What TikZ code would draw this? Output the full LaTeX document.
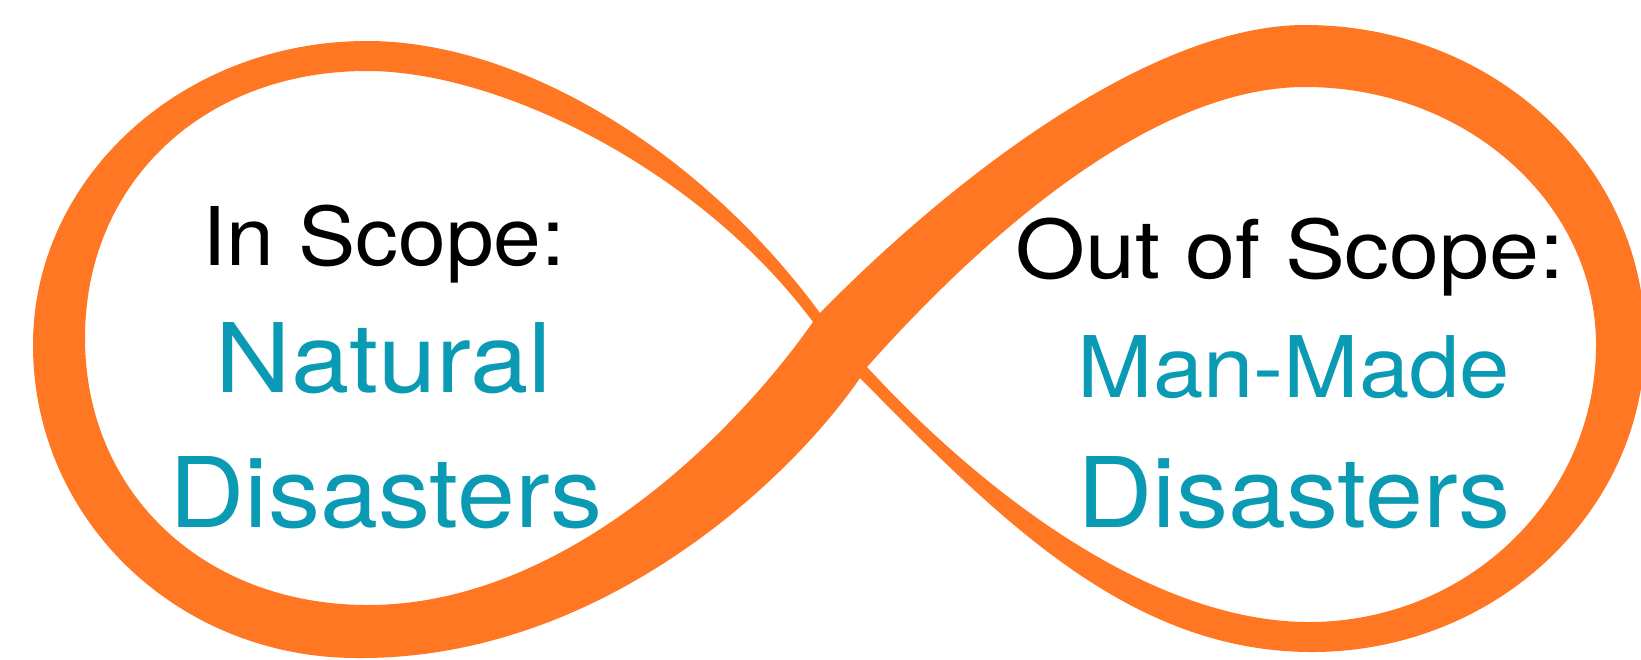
\documentclass[tikz,border=0pt]{standalone}
\usepackage{graphicx}
\usepackage{fontspec}
\setmainfont{TeX Gyre Heros}
\definecolor{loopfill}{HTML}{FF7722}
\definecolor{captionteal}{HTML}{0A9AB4}
\newcommand{\stretched}[2]{\scalebox{#1}[1]{#2}}
\begin{document}
\begin{tikzpicture}[x=0.5pt,y=-0.5pt,
  ring/.style={fill=loopfill, even odd rule},
  label/.style={inner sep=0pt, anchor=base},
  heading/.style={label, text=black},
  topic/.style={label, text=captionteal}]
\useasboundingbox (0,0) rectangle (1641,659);
\fill[white] (0,0) rectangle (1641,659);

% left loop: outer edge, then inner edge
\fill[ring]
  (867,367) -- (860,378)
    .. controls (790,480) and (600,660) .. (357,658)
    .. controls (178,658) and (33,520) .. (33,345)
    .. controls (33,177) and (183,41) .. (367,41)
    .. controls (520,41) and (700,150) .. (820,313) -- cycle
  (813,322)
    .. controls (700,170) and (500,71) .. (367,71)
    .. controls (203,71) and (85,183) .. (85,338)
    .. controls (85,493) and (204,605) .. (368,605)
    .. controls (560,605) and (730,440) .. (813,322) -- cycle;

% right loop: outer edge, then inner edge
\fill[ring]
  (813,322) -- (820,313)
    .. controls (950,180) and (1150,25) .. (1305,25)
    .. controls (1493,25) and (1645,166) .. (1645,340)
    .. controls (1645,512) and (1495,652) .. (1312,652)
    .. controls (1130,652) and (1000,520) .. (860,378) -- cycle
  (867,367)
    .. controls (980,240) and (1150,87) .. (1305,87)
    .. controls (1466,87) and (1596,203) .. (1596,345)
    .. controls (1596,498) and (1467,622) .. (1309,622)
    .. controls (1150,622) and (980,490) .. (867,367) -- cycle;

% captions
\node[heading, font=\fontsize{40.5}{40.5}\selectfont] (inscope) at (384,265) {\stretched{1.06}{In Scope:}};
\node[topic, font=\fontsize{48}{48}\selectfont] (natural) at (384,392) {\stretched{1.09}{Natural}};
\node[topic, font=\fontsize{48.7}{48.7}\selectfont] (natdis) at (386,527) {\stretched{1.07}{Disasters}};
\node[heading, font=\fontsize{40.5}{40.5}\selectfont] (outscope) at (1290,278) {\stretched{1.11}{Out of Scope:}};
\node[topic, font=\fontsize{42.5}{42.5}\selectfont] (manmade) at (1294,397) {\stretched{1.065}{Man-Made}};
\node[topic, font=\fontsize{48.7}{48.7}\selectfont] (mandis) at (1294,527) {\stretched{1.07}{Disasters}};
\end{tikzpicture}
\end{document}
